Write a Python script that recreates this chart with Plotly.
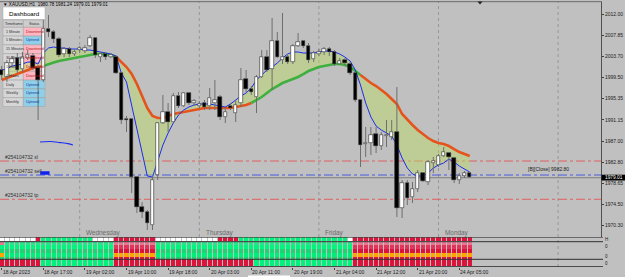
import plotly.graph_objects as go

# ---------------- data ----------------
bar_index = list(range(91))

opens = [2001.01, 1999.63, 2002.39, 2003.38, 2001.21, 2003.38, 2003.77, 2001.40, 1999.04, 2009.10,
         2008.51, 2007.13, 2004.17, 2005.15, 2004.17, 2004.95, 2004.76, 2005.74, 2007.32, 2003.57,
         2004.17, 2003.57, 2003.57, 2000.42, 1991.34, 1991.34, 1979.90, 1973.98, 1973.00, 1970.43,
         1980.29, 1990.55, 1992.72, 1990.75, 1995.88, 1993.91, 1996.47, 1994.50, 1993.91, 1994.50,
         1993.91, 1994.50, 1995.68, 1991.74, 1993.91, 1992.53, 1994.50, 1999.23, 1997.26, 1995.68,
         1999.63, 2003.57, 2001.21, 2006.73, 2002.98, 2003.57, 2002.59, 2005.74, 2006.73, 2005.74,
         2003.18, 2004.17, 2004.56, 2005.15, 2004.56, 2002.19, 2002.98, 2002.19, 2000.42, 1995.09,
         1986.41, 1986.61, 1988.38, 1986.01, 1987.99, 1987.79, 1988.78, 1973.78, 1978.71, 1975.95,
         1977.53, 1980.69, 1978.91, 1982.66, 1982.27, 1984.04, 1984.63, 1983.65, 1979.31, 1980.09,
         1980.69]
highs = [2001.80, 2002.98, 2003.77, 2004.36, 2004.56, 2004.95, 2004.36, 2001.99, 2010.87, 2011.86,
         2008.90, 2007.52, 2005.55, 2005.55, 2004.95, 2005.74, 2005.94, 2007.91, 2007.52, 2004.56,
         2004.56, 2004.36, 2003.97, 2000.61, 1991.93, 1991.54, 1980.09, 1974.97, 1973.39, 1980.09,
         1990.75, 1996.08, 1994.50, 1996.47, 1996.67, 1996.67, 1996.67, 1995.29, 1994.89, 1995.09,
         1997.46, 1999.04, 1996.08, 1993.51, 1994.50, 1995.09, 2001.40, 2001.01, 1997.85, 2000.02,
         2004.95, 2004.95, 2011.27, 2008.51, 2012.26, 2003.97, 2006.14, 2008.31, 2006.93, 2006.34,
         2004.76, 2005.15, 2005.55, 2005.55, 2004.95, 2003.38, 2003.38, 2002.59, 2000.61, 1995.29,
         1989.76, 1989.76, 1989.76, 1988.78, 1991.14, 1991.14, 1997.65, 1979.31, 1979.31, 1978.91,
         1981.28, 1980.88, 1983.25, 1983.84, 1984.43, 1985.82, 1984.83, 1983.84, 1980.69, 1981.08,
         1980.88]
lows = [1999.04, 1998.64, 2001.60, 2000.42, 2000.61, 2002.98, 2001.01, 1991.14, 1998.64, 2007.52,
        2006.34, 2003.57, 2003.57, 2003.57, 2003.77, 2004.36, 2004.36, 2005.55, 2003.38, 2002.59,
        2002.98, 2003.38, 2000.22, 1990.35, 1988.78, 1976.74, 1972.80, 1971.81, 1969.44, 1969.44,
        1979.31, 1990.35, 1988.78, 1990.55, 1993.51, 1993.71, 1994.10, 1993.91, 1993.51, 1993.12,
        1993.12, 1993.12, 1991.14, 1990.55, 1993.12, 1990.75, 1993.71, 1996.67, 1996.08, 1992.53,
        1999.43, 2000.61, 1997.06, 2003.38, 2002.19, 2002.19, 2002.19, 2005.55, 2005.35, 2002.39,
        2002.59, 2003.77, 2003.97, 2003.77, 2001.80, 2001.99, 2001.80, 2000.02, 1994.70, 1981.87,
        1983.84, 1984.24, 1984.63, 1985.23, 1985.82, 1987.20, 1972.01, 1971.81, 1974.37, 1974.77,
        1976.94, 1978.91, 1978.32, 1980.69, 1981.87, 1983.84, 1981.28, 1978.71, 1978.52, 1979.70,
        1979.70]
closes = [2000.02, 2002.39, 2003.18, 2001.01, 2003.57, 2003.97, 2001.40, 1999.04, 2009.10, 2008.51,
          2007.13, 2003.97, 2005.15, 2004.17, 2004.56, 2005.35, 2005.35, 2007.32, 2003.97, 2004.17,
          2003.57, 2003.97, 2000.42, 1991.14, 1991.14, 1979.90, 1973.98, 1973.00, 1970.82, 1979.31,
          1990.55, 1992.72, 1990.75, 1995.88, 1993.91, 1996.47, 1994.50, 1994.89, 1994.30, 1993.71,
          1995.49, 1995.09, 1991.74, 1992.72, 1993.51, 1994.10, 1999.04, 1997.26, 1996.67, 1999.63,
          2003.57, 2001.01, 2006.73, 2003.57, 2003.57, 2002.59, 2005.74, 2006.53, 2005.74, 2002.98,
          2004.36, 2004.56, 2005.15, 2004.56, 2002.19, 2002.78, 2002.39, 2000.42, 1995.09, 1986.21,
          1986.61, 1988.18, 1986.01, 1988.18, 1988.18, 1988.78, 1973.78, 1978.71, 1975.75, 1977.53,
          1980.69, 1979.11, 1982.86, 1983.05, 1984.04, 1984.83, 1983.84, 1979.31, 1980.09, 1980.69,
          1979.90]

fast_ma = [2001.01, 2001.21, 2001.80, 2001.99, 2002.19, 2002.59, 2002.59, 2002.19, 2004.36, 2005.35,
           2005.55, 2005.35, 2005.35, 2005.15, 2005.15, 2005.15, 2004.95, 2004.95, 2004.76, 2004.56,
           2004.36, 2004.17, 2003.77, 2000.42, 1998.64, 1994.10, 1989.57, 1985.23, 1980.09, 1979.90,
           1983.25, 1986.21, 1988.58, 1990.55, 1992.13, 1993.12, 1993.71, 1994.10, 1994.30, 1994.30,
           1994.30, 1994.10, 1993.91, 1993.71, 1994.30, 1995.09, 1995.88, 1996.47, 1997.46, 1999.04,
           2000.02, 2001.01, 2001.60, 2002.39, 2003.38, 2004.17, 2004.56, 2004.56, 2004.36, 2004.36,
           2004.36, 2004.56, 2004.76, 2004.76, 2004.56, 2004.17, 2003.57, 2002.78, 2001.01, 1998.05,
           1994.50, 1991.74, 1989.96, 1989.17, 1988.58, 1987.99, 1986.21, 1983.65, 1981.67, 1980.49,
           1980.09, 1980.09, 1980.69, 1981.67, 1982.27, 1982.66, 1983.45, 1982.86, 1982.07, 1981.48,
           1980.88]
slow_ma = [1999.04, 1999.43, 1999.83, 2000.22, 2000.61, 2001.01, 2001.40, 2001.60, 2001.80, 2002.19,
           2002.49, 2002.78, 2002.98, 2003.18, 2003.38, 2003.57, 2003.77, 2003.97, 2004.17, 2004.17,
           2004.17, 2003.97, 2003.57, 2002.59, 2001.60, 2000.22, 1998.25, 1995.88, 1993.51, 1991.93,
           1991.54, 1991.54, 1991.93, 1992.33, 1992.53, 1992.72, 1992.92, 1993.12, 1993.31, 1993.51,
           1993.51, 1993.51, 1993.51, 1993.51, 1993.51, 1993.71, 1993.91, 1994.10, 1994.50, 1995.09,
           1995.68, 1996.47, 1997.26, 1997.85, 1998.44, 1998.84, 1999.23, 1999.63, 2000.22, 2000.81,
           2001.21, 2001.60, 2001.80, 2001.99, 2002.19, 2002.19, 2001.99, 2001.60, 2000.81, 2000.02,
           1999.23, 1998.44, 1997.85, 1997.06, 1996.27, 1995.29, 1994.30, 1992.33, 1991.14, 1990.16,
           1989.17, 1988.38, 1987.59, 1987.00, 1986.61, 1986.41, 1986.01, 1985.42, 1984.83, 1984.43,
           1984.04]
# slow line colour switches (down = orange, up = green)
slow_segments = [(0, 8, "down"), (8, 22, "up"), (22, 48, "down"), (48, 69, "up"), (69, 90, "down")]

time_tick_bars = [0, 8, 16, 24, 32, 40, 48, 56, 64, 72, 80, 88]
time_tick_labels = ["18 Apr 2023", "18 Apr 17:00", "19 Apr 02:00", "19 Apr 10:00", "19 Apr 18:00",
                    "20 Apr 03:00", "20 Apr 11:00", "20 Apr 19:00", "21 Apr 04:00", "21 Apr 12:00",
                    "21 Apr 20:00", "24 Apr 05:00"]
day_sep_bars = [15, 38, 61, 84, 107]
day_names = ["Wednesday", "Thursday", "Friday", "Monday"]
price_ticks = [2012.00, 2007.85, 2003.70, 1999.50, 1995.35, 1991.15, 1987.00, 1982.80, 1978.65, 1974.50, 1970.30]

order_lines = [("#254104732 sl", 1983.05, "#E06060"),
               ("#254104732 sell", 1980.29, "#4A5CE0"),
               ("#254104732 tp", 1975.50, "#E06060")]
bid_price = 1979.75
bid_label = "1979.01"
title_text = "▼ XAUUSD,H1  1980.78 1981.24 1979.01 1979.01"
quote_text = "[B][Close] 9982.80"

drawn_curve_x = [7.37, 9.29, 11.2, 12.75, 13.7]
drawn_curve_y = [1986.80, 1986.90, 1986.70, 1986.50, 1986.21]
sell_arrow_x = [7.4, 9.2]
sell_arrow_y = [1980.69, 1980.69]

timeframes = ["1 Minute", "5 Minutes", "15 Minutes", "30 Minutes", "1 Hour", "4 Hours", "Daily", "Weekly", "Monthly"]
statuses = ["Downtrend", "Uptrend", "Downtrend", "Downtrend", "Downtrend", "Downtrend", "Uptrend", "Uptrend", "Uptrend"]

# indicator panel states per bar (W white, R red, G green, M mixed)
row1_state = "W" * 7 + "R" * 1 + "G" * 10 + "W" * 4 + "R" * 8 + "W" * 12 + "R" * 4 + "G" * 21 + "W" * 1 + "R" * 23
row2_state = "M" * 1 + "G" * 21 + "R" * 8 + "G" * 38 + "R" * 23
row3_state = "R" * 8 + "G" * 14 + "R" * 27 + "G" * 19 + "R" * 23

# ---------------- geometry ----------------
W, H = 625, 277
ML, MR, MT, MB = 0, 24, 2, 10
PW, PH = W - ML - MR, H - MT - MB


def fx(px):
    return (px - ML) / PW


def fy(py):
    return (H - MB - py) / PH


XMIN, XMAX = -0.327, 115.25
YMIN, YMAX = 1968.00, 2014.43
FONT = "Liberation Sans"

fig = go.Figure()

# ----- MA ribbon -----
fig.add_trace(go.Scatter(x=bar_index, y=slow_ma, mode="lines", line=dict(width=0, color="rgba(0,0,0,0)"),
                         hoverinfo="skip", showlegend=False))
fig.add_trace(go.Scatter(x=bar_index, y=fast_ma, mode="lines", line=dict(width=0, color="rgba(0,0,0,0)"),
                         fill="tonexty", fillcolor="rgba(188,222,100,0.45)", hoverinfo="skip", showlegend=False))
for a, b, kind in slow_segments:
    fig.add_trace(go.Scatter(x=bar_index[a:b + 1], y=slow_ma[a:b + 1], mode="lines",
                             line=dict(width=2.6, color="#E4541C" if kind == "down" else "#3FAF3F"),
                             hoverinfo="skip", showlegend=False))
fig.add_trace(go.Scatter(x=bar_index, y=fast_ma, mode="lines", line=dict(width=1, color="#1A2EF0"),
                         hoverinfo="skip", showlegend=False))

# drawn objects
fig.add_trace(go.Scatter(x=drawn_curve_x, y=drawn_curve_y, mode="lines", line=dict(width=1.2, color="#1A2EF0"),
                         line_shape="spline", hoverinfo="skip", showlegend=False))
fig.add_trace(go.Scatter(x=sell_arrow_x, y=sell_arrow_y, mode="lines", line=dict(width=3.5, color="#1020F0"),
                         hoverinfo="skip", showlegend=False))

# ----- candles on overlay axis (foreground) -----
wx, wy = [], []
bases, heights, body_colors = [], [], []
for i, (o, h, l, c) in enumerate(zip(opens, highs, lows, closes)):
    top, bot = max(o, c), min(o, c)
    wx += [i, i, None, i, i, None]
    wy += [h, top, None, bot, l, None]
    d = top - bot
    if d < 0.22:
        bases.append(bot - (0.22 - d) / 2)
        heights.append(0.22)
    else:
        bases.append(bot)
        heights.append(d)
    body_colors.append("#FFFFFF" if c >= o else "#000000")
fig.add_trace(go.Scatter(x=wx, y=wy, mode="lines", line=dict(width=1, color="#6E6E6E"), yaxis="y3",
                         hoverinfo="skip", showlegend=False))
fig.add_trace(go.Bar(x=bar_index, y=heights, base=bases, width=0.62, yaxis="y3",
                     marker=dict(color=body_colors, line=dict(color="#2A2A2A", width=0.6)),
                     hoverinfo="skip", showlegend=False))

# ----- indicator panel -----
up_green = "#00F27C"
red = "#DC143C"
sub_rows = [  # (base, height, up colour, down colour)
    (21.3, 3.4, "#2CE389", "#E87890"),
    (17.7, 3.6, "#00F57F", "#E2355C"),
    (13.7, 4.0, "#1CD572", "#DC143C"),
    (9.7, 4.0, "#00EE7A", "#FFA500"),
    (8.1, 1.6, "#26CC6E", "#DC143C"),
]
mixed_col = ["#E87890", "#00F57F", "#1CD572", "#FFA500", "#26CC6E"]
r1map = {"W": "#FFFFFF", "R": red, "G": up_green}
fig.add_trace(go.Bar(x=bar_index, y=[3.6] * 91, base=25.7, width=0.82, yaxis="y2",
                     marker=dict(color=[r1map[s] for s in row1_state], line=dict(width=0)),
                     hoverinfo="skip", showlegend=False))
for k, (b0, hh, cu, cd) in enumerate(sub_rows):
    cols = [cu if s == "G" else (cd if s == "R" else mixed_col[k]) for s in row2_state]
    fig.add_trace(go.Bar(x=bar_index, y=[hh] * 91, base=b0, width=0.82, yaxis="y2",
                         marker=dict(color=cols, line=dict(width=0)), hoverinfo="skip", showlegend=False))
fig.add_trace(go.Bar(x=bar_index, y=[6.6] * 91, base=0.7, width=0.82, yaxis="y2",
                     marker=dict(color=[up_green if s == "G" else red for s in row3_state], line=dict(width=0)),
                     hoverinfo="skip", showlegend=False))

shapes = []
annotations = []

# day separators
for b in day_sep_bars:
    shapes.append(dict(type="line", xref="x", yref="paper", x0=b, x1=b, y0=0, y1=1,
                       line=dict(color="#8C8C8C", width=0.8, dash="dot"), layer="below"))
# order lines
for txt, p, col in order_lines:
    shapes.append(dict(type="line", xref="paper", yref="y", x0=0, x1=1, y0=p, y1=p,
                       line=dict(color=col, width=1, dash="dashdot"), layer="below"))
    annotations.append(dict(xref="paper", yref="y", x=fx(3), y=p, yshift=4, text=txt, showarrow=False,
                            xanchor="left", yanchor="middle", font=dict(family=FONT, size=5, color="#303030")))
shapes.append(dict(type="line", xref="paper", yref="y", x0=0, x1=1, y0=bid_price, y1=bid_price,
                   line=dict(color="#7C7C7C", width=1), layer="below"))

# panel lines
for v in [29.7, 25.3, 7.7, 0.3]:
    shapes.append(dict(type="line", xref="paper", yref="y2", x0=0, x1=fx(603), y0=v, y1=v,
                       line=dict(color="#303030", width=1), layer="above"))
# top border
shapes.append(dict(type="line", xref="paper", yref="paper", x0=0, x1=fx(602), y0=fy(1.7), y1=fy(1.7),
                   line=dict(color="#6A6A6A", width=1)))
# chart shift marker
shapes.append(dict(type="path", xref="paper", yref="paper",
                   path=f"M {fx(477.5)} {fy(1.5)} L {fx(482.5)} {fy(1.5)} L {fx(480)} {fy(4.5)} Z",
                   fillcolor="#202020", line=dict(width=0)))
# scrollbar strip
shapes.append(dict(type="rect", xref="paper", yref="paper", x0=fx(248), x1=fx(290), y0=fy(277), y1=fy(275.6),
                   fillcolor="#FFFFFF", line=dict(width=0)))
# current price box
bid_py = 177.6
shapes.append(dict(type="rect", xref="paper", yref="paper", x0=fx(601.5), x1=fx(625), y0=fy(bid_py + 2.9),
                   y1=fy(bid_py - 2.9), fillcolor="#000000", line=dict(width=0)))
annotations.append(dict(xref="paper", yref="paper", x=fx(604), y=fy(bid_py), text=bid_label, showarrow=False,
                        xanchor="left", yanchor="middle", borderpad=0,
                        font=dict(family=FONT, size=4.8, color="#FFFFFF")))

# dashboard
shapes.append(dict(type="rect", xref="paper", yref="paper", x0=fx(3), x1=fx(45), y0=fy(19.5), y1=fy(7),
                   fillcolor="#FFFFFF", line=dict(color="#A8A8A8", width=0.5), layer="below"))
annotations.append(dict(xref="paper", yref="paper", x=fx(24), y=fy(13.2), text="Dashboard", showarrow=False,
                        xanchor="center", yanchor="middle", font=dict(family=FONT, size=6.2, color="#000000")))
for x0, x1, t in [(3, 23.3, "Timeframe"), (23.3, 45, "Status")]:
    shapes.append(dict(type="rect", xref="paper", yref="paper", x0=fx(x0), x1=fx(x1), y0=fy(27.3), y1=fy(20),
                       fillcolor="#CDCDCD", line=dict(color="#A0A0A0", width=0.5), layer="below"))
    annotations.append(dict(xref="paper", yref="paper", x=fx((x0 + x1) / 2), y=fy(23.6), text=t, showarrow=False,
                            xanchor="center", yanchor="middle", font=dict(family=FONT, size=3.7, color="#303030")))
for k, (tf, st) in enumerate(zip(timeframes, statuses)):
    y0 = 27.3 + k * 8.8
    y1 = y0 + 8.8
    shapes.append(dict(type="rect", xref="paper", yref="paper", x0=fx(3), x1=fx(23.3), y0=fy(y1), y1=fy(y0),
                       fillcolor="#D6D6D6", line=dict(color="#A0A0A0", width=0.5), layer="below"))
    scol = "#FFB6C1" if st == "Downtrend" else "#8ECFEA"
    shapes.append(dict(type="rect", xref="paper", yref="paper", x0=fx(23.3), x1=fx(45), y0=fy(y1), y1=fy(y0),
                       fillcolor=scol, line=dict(color="#A0A0A0", width=0.5), layer="below"))
    annotations.append(dict(xref="paper", yref="paper", x=fx(4), y=fy(y0 + 4.4), text=tf, showarrow=False,
                            xanchor="left", yanchor="middle", font=dict(family=FONT, size=3.7, color="#303030")))
    annotations.append(dict(xref="paper", yref="paper", x=fx(24.3), y=fy(y0 + 4.4), text=st, showarrow=False,
                            xanchor="left", yanchor="middle",
                            font=dict(family=FONT, size=3.7, color="#B01818" if st == "Downtrend" else "#1A3A9A")))

# title
annotations.append(dict(xref="paper", yref="paper", x=fx(1), y=fy(5), text=title_text, showarrow=False,
                        xanchor="left", yanchor="middle", font=dict(family=FONT, size=4.6, color="#000000")))
# quote label
annotations.append(dict(xref="paper", yref="paper", x=fx(526), y=fy(168.5), text=quote_text, showarrow=False,
                        xanchor="left", yanchor="middle", font=dict(family=FONT, size=5, color="#202020")))
# day names
for b, name in zip(day_sep_bars, day_names):
    annotations.append(dict(xref="x", yref="paper", x=b + 1, xshift=-1, y=fy(232.6), text=name, showarrow=False,
                            xanchor="left", yanchor="middle", font=dict(family=FONT, size=6.4, color="#6A6A6A")))
# time labels
for b, t in zip(time_tick_bars, time_tick_labels):
    annotations.append(dict(xref="x", yref="paper", x=b, xshift=-1, y=fy(271.5), text=t, showarrow=False,
                            xanchor="left", yanchor="middle", font=dict(family=FONT, size=5, color="#202020")))
# indicator scale labels
for py, t in [(239.5, "H"), (246, "0"), (256, "0"), (263.5, "0")]:
    annotations.append(dict(xref="paper", yref="paper", x=fx(603), y=fy(py), text=t, showarrow=False,
                            xanchor="left", yanchor="middle", font=dict(family=FONT, size=4.5, color="#202020")))

fig.update_layout(
    width=W, height=H,
    margin=dict(l=ML, r=MR, t=MT, b=MB, pad=0),
    paper_bgcolor="#C0C0C0", plot_bgcolor="#C0C0C0",
    barmode="overlay", bargap=0, showlegend=False,
    xaxis=dict(range=[XMIN, XMAX], anchor="y2", showgrid=False, zeroline=False, showticklabels=False,
               tickvals=time_tick_bars, ticks="outside", ticklen=2, tickcolor="#404040", showline=False,
               fixedrange=True),
    yaxis=dict(domain=[fy(237.3), 1], range=[YMIN, YMAX], side="right", tickvals=price_ticks,
               ticktext=[f"{v:.2f}" for v in price_ticks], ticks="outside", ticklen=2, tickcolor="#404040",
               tickfont=dict(family=FONT, size=5, color="#202020"), showgrid=False, zeroline=False,
               showline=True, linecolor="#505050", linewidth=1, fixedrange=True),
    yaxis2=dict(domain=[0, fy(237.3)], range=[0, 29.7], visible=False, fixedrange=True),
    yaxis3=dict(overlaying="y", range=[YMIN, YMAX], visible=False, fixedrange=True),
    shapes=shapes,
    annotations=annotations,
)

fig.write_html("out.html")
